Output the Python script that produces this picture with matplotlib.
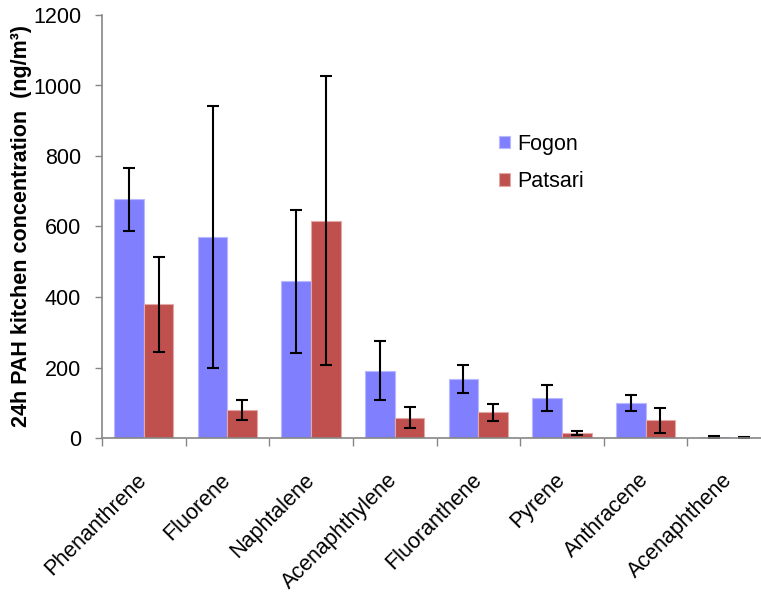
import numpy as np
import matplotlib
matplotlib.use("Agg")
import matplotlib.pyplot as plt

# compuestos y concentraciones (ng/m3)
compuestos = ['Phenanthrene', 'Fluorene', 'Naphtalene', 'Acenaphthylene',
              'Fluoranthene', 'Pyrene', 'Anthracene', 'Acenaphthene']
fogon = [677, 570, 445, 191, 168, 114, 99, 4]
fogon_err = [90, 372, 203, 84, 40, 36, 22, 3]
patsari = [379, 80, 617, 57, 73, 15, 50, 1]
patsari_err = [134, 28, 410, 30, 24, 6, 35, 1]

plt.rcParams['font.family'] = ['Liberation Sans', 'DejaVu Sans']

fig = plt.figure(figsize=(7.61, 6.01), dpi=100)
ax = fig.add_axes([102 / 761, 163 / 601, 669 / 761, 423 / 601])

x = np.arange(len(compuestos))
w = 0.355
err_kw = dict(ecolor='black', elinewidth=1.5, capsize=4, capthick=1.5)
ax.bar(x - w / 2, fogon, w, yerr=fogon_err, color='#8080FF', edgecolor='#B8B8FF',
       linewidth=0.8, label='Fogon', error_kw=err_kw)
ax.bar(x + w / 2, patsari, w, yerr=patsari_err, color='#C0504D', edgecolor='#E3A9A8',
       linewidth=0.8, label='Patsari', error_kw=err_kw)

ax.set_xlim(-0.5, len(compuestos) - 0.5)
ax.set_ylim(0, 1200)
ax.set_yticks(np.arange(0, 1201, 200))
ax.tick_params(axis='y', direction='out', length=5, width=1, color='#868686',
               labelsize=15.5, pad=10)

# marcas en los límites de categoría, etiquetas en el centro
ax.set_xticks(np.arange(-0.5, len(compuestos), 1.0))
ax.set_xticklabels([])
ax.tick_params(axis='x', which='major', direction='out', length=6, width=1, color='#868686')
ax.set_xticks(x, minor=True)
ax.set_xticklabels(compuestos, minor=True, rotation=45, ha='right', va='center',
                   rotation_mode='anchor', fontsize=15.5)
ax.tick_params(axis='x', which='minor', length=0, pad=28)

for s in ['top', 'right']:
    ax.spines[s].set_visible(False)
for s in ['left', 'bottom']:
    ax.spines[s].set_color('#868686')
    ax.spines[s].set_linewidth(1.2)

fig.text(22 / 761, 1 - 226 / 601, '24h PAH kitchen concentration  (ng/m³)',
         rotation=90, ha='center', va='center', fontsize=15.5, fontweight='bold')

ax.legend(loc='upper left', bbox_to_anchor=(499 / 761, 1 - 134 / 601),
          bbox_transform=fig.transFigure, frameon=False, fontsize=15.5,
          handlelength=0.5, handleheight=0.5, handletextpad=0.35,
          labelspacing=0.75, borderaxespad=0, borderpad=0)

fig.savefig('out.png', dpi=100)
